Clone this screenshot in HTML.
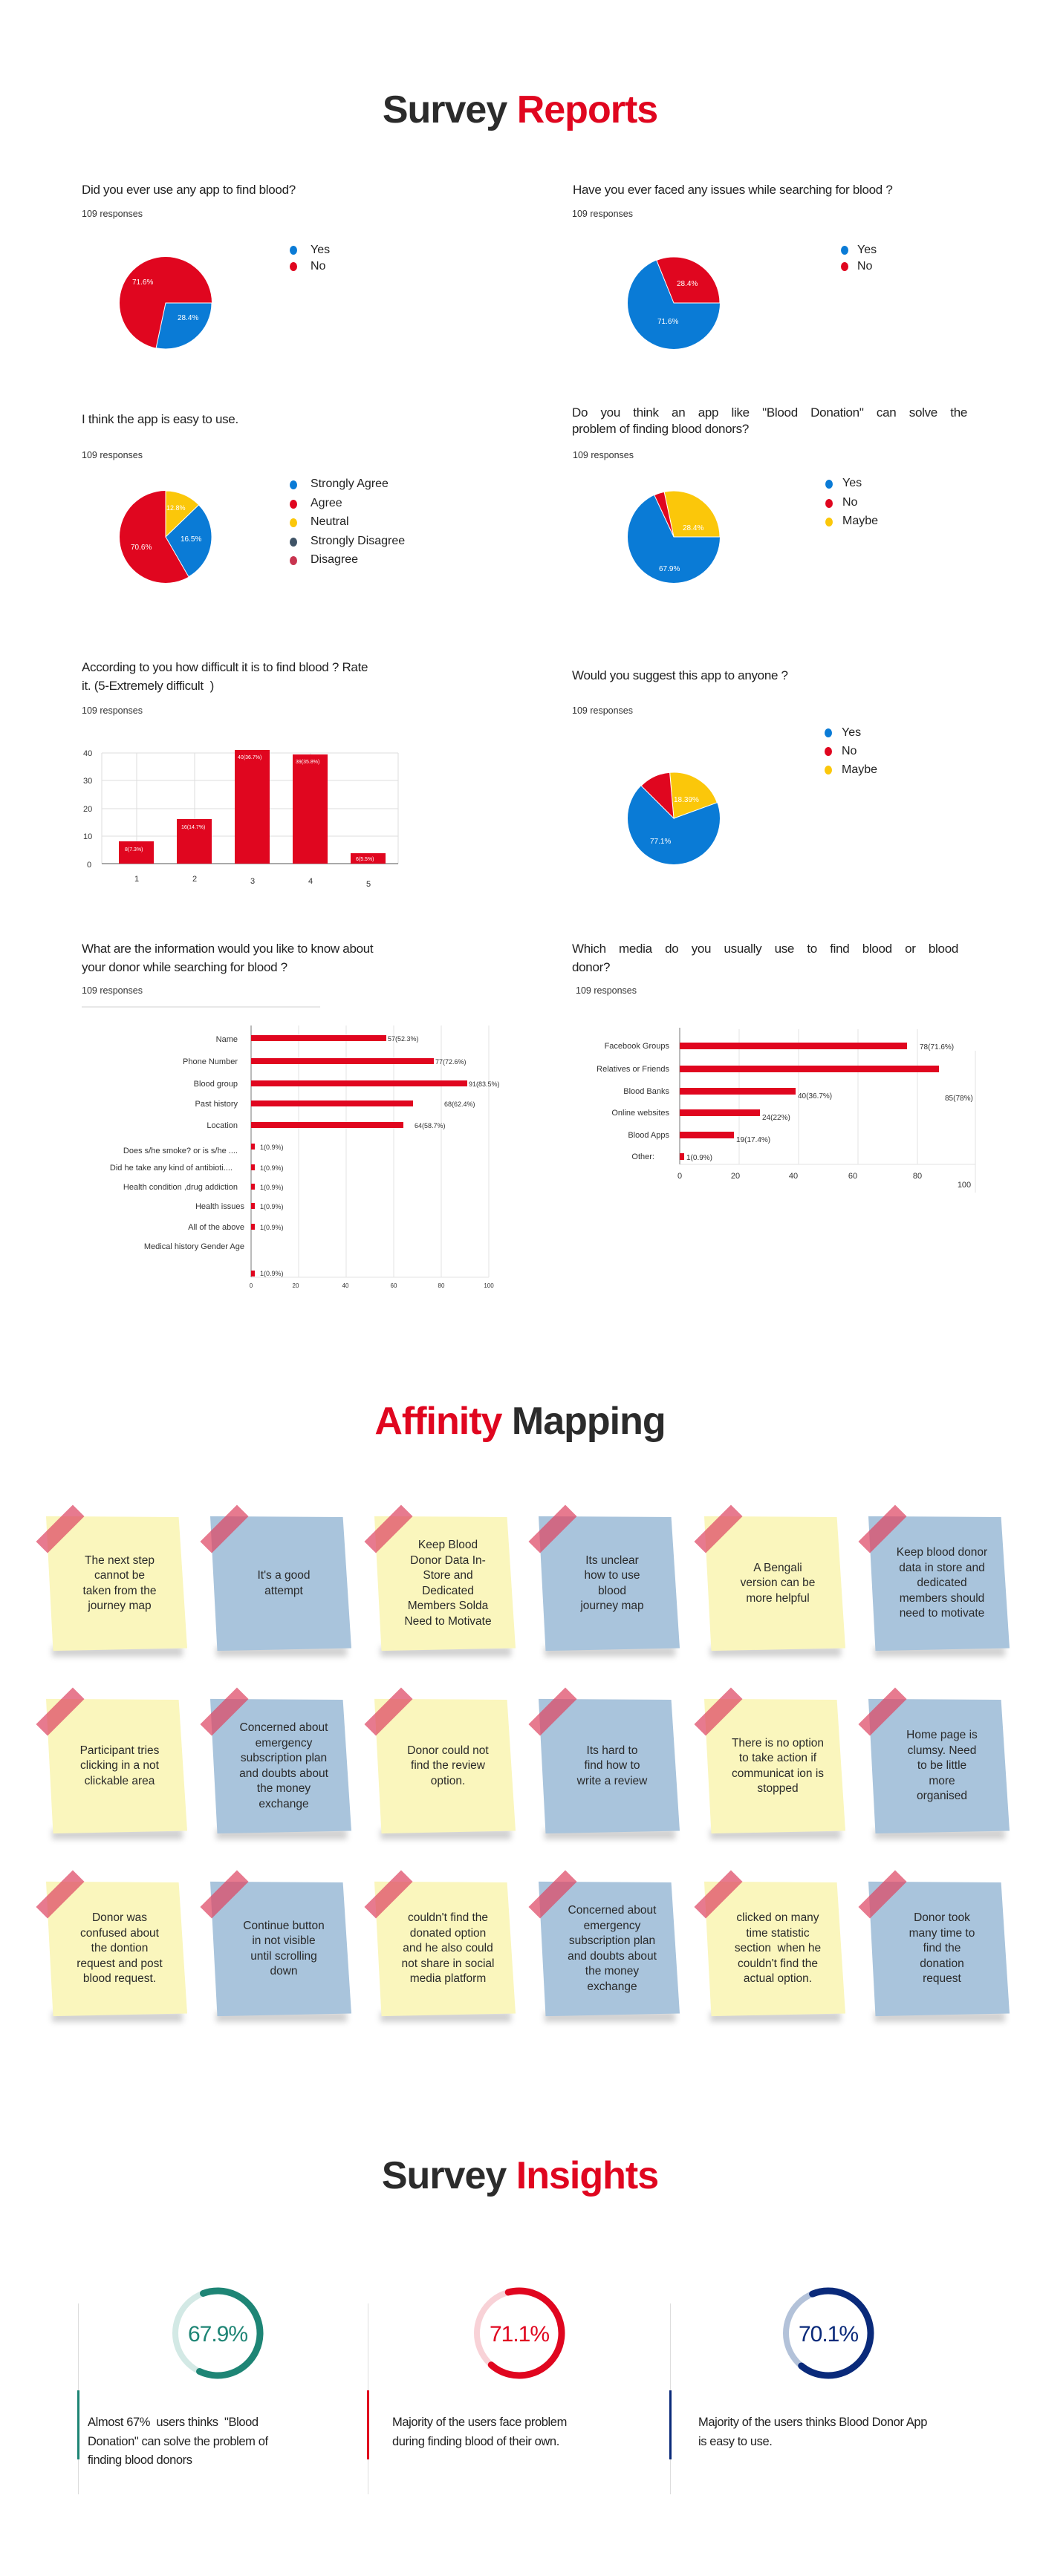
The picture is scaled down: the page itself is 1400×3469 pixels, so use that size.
<!DOCTYPE html>
<html><head><meta charset="utf-8">
<style>
*{margin:0;padding:0;box-sizing:border-box}
body{width:1400px;height:3469px;background:#fff;position:relative;font-family:"Liberation Sans",sans-serif;color:#2b2b2b;overflow:hidden}
.a{position:absolute;white-space:nowrap}
.h1{font-weight:bold;font-size:52px;letter-spacing:-1px;color:#2b2b2b;width:1400px;text-align:center;left:0}
.r{color:#e0061f}
.q{font-size:17px;color:#222;letter-spacing:-0.3px}
.resp{font-size:12.5px;color:#333}
.lg{font-size:16px;color:#222}
.dot{position:absolute;width:10px;height:12px;border-radius:50%}
.note{position:absolute;width:190px;height:185px}
.note .bg{position:absolute;inset:0;clip-path:polygon(0 1%,94% 1.6%,100% 97%,5% 99%)}
.note .sh{position:absolute;left:8px;right:6px;bottom:-6px;height:14px;background:rgba(0,0,0,.18);filter:blur(4px)}
.note .t{position:absolute;left:14px;right:6px;top:0;bottom:0;display:flex;align-items:center;justify-content:center;text-align:center;font-size:15.5px;line-height:20.5px;color:#2a2a2a;white-space:normal;padding:0 15px}
.note .tape{position:absolute;left:-16px;top:8px;width:70px;height:22px;background:rgba(222,70,100,.72);transform:rotate(-45deg)}
.y .bg{background:#faf6bd}.b .bg{background:#a9c4dc}
.ins{font-size:16.5px;line-height:25.5px;color:#222;white-space:normal;letter-spacing:-0.4px}
</style></head><body>

<div class="a h1" style="top:118px">Survey <span class="r">Reports</span></div>

<!-- Q1 -->
<div class="a q" style="left:110px;top:246px">Did you ever use any app to find blood?</div>
<div class="a resp" style="left:110px;top:281px">109 responses</div>
<svg class="a" style="left:161px;top:346px" width="124" height="124" viewBox="-62 -62 124 124">
<circle r="62" fill="#e0061f"/><path d="M0 0 L62 0 A62 62 0 0 1 -12.9 60.6Z" fill="#0a7bd6" stroke="#fff" stroke-width="1"/>
<text x="-45" y="-25" fill="#fff" font-size="10">71.6%</text><text x="16" y="23" fill="#fff" font-size="10">28.4%</text></svg>
<div class="dot" style="left:390px;top:331px;background:#0a7bd6"></div><div class="a lg" style="left:418px;top:328px">Yes</div>
<div class="dot" style="left:390px;top:353px;background:#e0061f"></div><div class="a lg" style="left:418px;top:350px">No</div>

<!-- Q2 -->
<div class="a q" style="left:771px;top:246px">Have you ever faced any issues while searching for blood ?</div>
<div class="a resp" style="left:770px;top:281px">109 responses</div>
<svg class="a" style="left:845px;top:346px" width="124" height="124" viewBox="-62 -62 124 124">
<circle r="62" fill="#0a7bd6"/><path d="M0 0 L-23.2 -57.5 A62 62 0 0 1 62 0Z" fill="#e0061f" stroke="#fff" stroke-width="1"/>
<text x="4" y="-23" fill="#fff" font-size="10">28.4%</text><text x="-22" y="28" fill="#fff" font-size="10">71.6%</text></svg>
<div class="dot" style="left:1132px;top:331px;background:#0a7bd6"></div><div class="a lg" style="left:1154px;top:328px">Yes</div>
<div class="dot" style="left:1132px;top:353px;background:#e0061f"></div><div class="a lg" style="left:1154px;top:350px">No</div>

<!-- Q3 -->
<div class="a q" style="left:110px;top:555px">I think the app is easy to use.</div>
<div class="a resp" style="left:110px;top:606px">109 responses</div>
<svg class="a" style="left:161px;top:661px" width="124" height="124" viewBox="-62 -62 124 124">
<circle r="62" fill="#e0061f"/><path d="M0 0 L0 -62 A62 62 0 0 1 44.6 -43.1Z" fill="#fbc70a" stroke="#fff" stroke-width="1"/>
<path d="M0 0 L44.6 -43.1 A62 62 0 0 1 31 53.7Z" fill="#0a7bd6" stroke="#fff" stroke-width="1"/>
<text x="1" y="-36" fill="#fff" font-size="9">12.8%</text><text x="20" y="6" fill="#fff" font-size="10">16.5%</text><text x="-47" y="17" fill="#fff" font-size="10">70.6%</text></svg>
<div class="dot" style="left:390px;top:647px;background:#0a7bd6"></div><div class="a lg" style="left:418px;top:643px">Strongly Agree</div>
<div class="dot" style="left:390px;top:673px;background:#e0061f"></div><div class="a lg" style="left:418px;top:669px">Agree</div>
<div class="dot" style="left:390px;top:698px;background:#fbc70a"></div><div class="a lg" style="left:418px;top:694px">Neutral</div>
<div class="dot" style="left:390px;top:724px;background:#3f5366"></div><div class="a lg" style="left:418px;top:720px">Strongly Disagree</div>
<div class="dot" style="left:390px;top:749px;background:#c8344f"></div><div class="a lg" style="left:418px;top:745px">Disagree</div>

<!-- Q4 -->
<div class="a q" style="left:770px;top:543px;width:532px;white-space:normal;text-align:justify;text-align-last:justify;line-height:25px">Do you think an app like "Blood Donation" can solve the</div>
<div class="a q" style="left:770px;top:568px">problem of finding blood donors?</div>
<div class="a resp" style="left:771px;top:606px">109 responses</div>
<svg class="a" style="left:845px;top:661px" width="124" height="124" viewBox="-62 -62 124 124">
<circle r="62" fill="#0a7bd6"/><path d="M0 0 L-12.9 -60.6 A62 62 0 0 1 62 0Z" fill="#fbc70a" stroke="#fff" stroke-width="1"/>
<path d="M0 0 L-26.2 -56.2 A62 62 0 0 1 -12.9 -60.6Z" fill="#e0061f" stroke="#fff" stroke-width="1"/>
<text x="12" y="-9" fill="#fff" font-size="10">28.4%</text><text x="-20" y="46" fill="#fff" font-size="10">67.9%</text></svg>
<div class="dot" style="left:1111px;top:646px;background:#0a7bd6"></div><div class="a lg" style="left:1134px;top:642px">Yes</div>
<div class="dot" style="left:1111px;top:672px;background:#e0061f"></div><div class="a lg" style="left:1134px;top:668px">No</div>
<div class="dot" style="left:1111px;top:697px;background:#fbc70a"></div><div class="a lg" style="left:1134px;top:693px">Maybe</div>

<!-- Q5 bar -->
<div class="a q" style="left:110px;top:889px">According to you how difficult it is to find blood ? Rate</div>
<div class="a q" style="left:110px;top:914px">it. (5-Extremely difficult&nbsp;&nbsp;)</div>
<div class="a resp" style="left:110px;top:950px">109 responses</div>
<svg class="a" style="left:100px;top:1000px" width="460" height="200" font-family="Liberation Sans" font-size="11" fill="#333">
<g stroke="#ddd" stroke-width="1">
<line x1="37" y1="14" x2="436" y2="14"/><line x1="37" y1="51" x2="436" y2="51"/><line x1="37" y1="89" x2="436" y2="89"/><line x1="37" y1="126" x2="436" y2="126"/>
<line x1="37" y1="14" x2="37" y2="163"/><line x1="84" y1="14" x2="84" y2="163"/><line x1="162" y1="14" x2="162" y2="163"/><line x1="240" y1="14" x2="240" y2="163"/><line x1="318" y1="14" x2="318" y2="163"/><line x1="436" y1="14" x2="436" y2="163"/></g>
<line x1="37" y1="163" x2="436" y2="163" stroke="#555"/>
<g fill="#e0061f"><rect x="60" y="133" width="47" height="30"/><rect x="138" y="103" width="47" height="60"/><rect x="216" y="10" width="47" height="153"/><rect x="294" y="16" width="47" height="147"/><rect x="372" y="149" width="47" height="14"/></g>
<g fill="#fff" font-size="7"><text x="68" y="146">8(7.3%)</text><text x="144" y="116">16(14.7%)</text><text x="220" y="22">40(36.7%)</text><text x="298" y="28">39(35.8%)</text><text x="379" y="159">6(5.5%)</text></g>
<text x="12" y="18">40</text><text x="12" y="55">30</text><text x="12" y="93">20</text><text x="12" y="130">10</text><text x="17" y="168">0</text>
<text x="81" y="187">1</text><text x="159" y="187">2</text><text x="237" y="190">3</text><text x="315" y="190">4</text><text x="393" y="194">5</text></svg>

<!-- Q6 -->
<div class="a q" style="left:770px;top:900px">Would you suggest this app to anyone ?</div>
<div class="a resp" style="left:770px;top:950px">109 responses</div>
<svg class="a" style="left:845px;top:1040px" width="124" height="124" viewBox="-62 -62 124 124">
<circle r="62" fill="#0a7bd6"/><path d="M0 0 L-5.4 -61.8 A62 62 0 0 1 58.3 -21.2Z" fill="#fbc70a" stroke="#fff" stroke-width="1"/>
<path d="M0 0 L-43.8 -43.8 A62 62 0 0 1 -5.4 -61.8Z" fill="#e0061f" stroke="#fff" stroke-width="1"/>
<text x="0" y="-22" fill="#fff" font-size="10">18.39%</text><text x="-32" y="34" fill="#fff" font-size="10">77.1%</text></svg>
<div class="dot" style="left:1110px;top:981px;background:#0a7bd6"></div><div class="a lg" style="left:1133px;top:978px">Yes</div>
<div class="dot" style="left:1110px;top:1006px;background:#e0061f"></div><div class="a lg" style="left:1133px;top:1003px">No</div>
<div class="dot" style="left:1110px;top:1031px;background:#fbc70a"></div><div class="a lg" style="left:1133px;top:1028px">Maybe</div>

<!-- Q7 -->
<div class="a q" style="left:110px;top:1268px">What are the information would you like to know about</div>
<div class="a q" style="left:110px;top:1293px">your donor while searching for blood ?</div>
<div class="a resp" style="left:110px;top:1327px">109 responses</div>
<div class="a" style="left:110px;top:1355px;width:321px;height:2px;background:#e8e8e8"></div>
<svg class="a" style="left:100px;top:1375px" width="600" height="370" font-family="Liberation Sans" font-size="11" fill="#333">
<g stroke="#e3e3e3"><line x1="302" y1="6" x2="302" y2="345"/><line x1="366" y1="6" x2="366" y2="345"/><line x1="430" y1="6" x2="430" y2="345"/><line x1="494" y1="6" x2="494" y2="345"/><line x1="558" y1="6" x2="558" y2="345"/><line x1="238" y1="345" x2="558" y2="345"/></g>
<line x1="238" y1="6" x2="238" y2="345" stroke="#777"/>
<g fill="#e0061f"><rect x="238" y="19" width="182" height="8"/><rect x="238" y="50" width="246" height="8"/><rect x="238" y="80" width="291" height="8"/><rect x="238" y="107" width="218" height="8"/><rect x="238" y="136" width="205" height="8"/>
<rect x="238" y="165" width="5" height="8"/><rect x="238" y="193" width="5" height="8"/><rect x="238" y="219" width="5" height="8"/><rect x="238" y="245" width="5" height="8"/><rect x="238" y="273" width="5" height="8"/><rect x="238" y="336" width="5" height="8"/></g>
<g font-size="9"><text x="422" y="27">57(52.3%)</text><text x="486" y="58">77(72.6%)</text><text x="531" y="88">91(83.5%)</text><text x="498" y="115">68(62.4%)</text><text x="458" y="144">64(58.7%)</text>
<text x="250" y="173">1(0.9%)</text><text x="250" y="201">1(0.9%)</text><text x="250" y="227">1(0.9%)</text><text x="250" y="253">1(0.9%)</text><text x="250" y="281">1(0.9%)</text><text x="250" y="343">1(0.9%)</text></g>
<g text-anchor="end" font-size="11"><text x="220" y="28">Name</text><text x="220" y="58">Phone Number</text><text x="220" y="88">Blood group</text><text x="220" y="115">Past history</text><text x="220" y="144">Location</text>
<text x="220" y="178">Does s/he smoke? or is s/he ....</text><text x="213" y="201">Did he take any kind of antibioti....</text><text x="220" y="227">Health condition ,drug addiction</text><text x="229" y="253">Health issues</text><text x="229" y="281">All of the above</text><text x="229" y="307">Medical history Gender Age</text></g>
<g font-size="8" text-anchor="middle"><text x="238" y="359">0</text><text x="298" y="359">20</text><text x="365" y="359">40</text><text x="430" y="359">60</text><text x="494" y="359">80</text><text x="558" y="359">100</text></g></svg>

<!-- Q8 -->
<div class="a q" style="left:770px;top:1268px;width:520px;white-space:normal;text-align:justify;text-align-last:justify">Which media do you usually use to find blood or blood</div>
<div class="a q" style="left:770px;top:1293px">donor?</div>
<div class="a resp" style="left:775px;top:1327px">109 responses</div>
<svg class="a" style="left:760px;top:1380px" width="600" height="240" font-family="Liberation Sans" font-size="12" fill="#333">
<g stroke="#e3e3e3"><line x1="235" y1="6" x2="235" y2="188"/><line x1="315" y1="6" x2="315" y2="188"/><line x1="395" y1="6" x2="395" y2="188"/><line x1="475" y1="6" x2="475" y2="188"/><line x1="155" y1="188" x2="553" y2="188"/><line x1="553" y1="35" x2="553" y2="226"/></g>
<line x1="155" y1="4" x2="155" y2="188" stroke="#777"/>
<g fill="#e0061f"><rect x="155" y="24" width="306" height="9"/><rect x="155" y="55" width="349" height="9"/><rect x="155" y="85" width="156" height="9"/><rect x="155" y="114" width="108" height="9"/><rect x="155" y="144" width="73" height="9"/><rect x="155" y="173" width="6" height="9"/></g>
<g font-size="10"><text x="478" y="33">78(71.6%)</text><text x="314" y="99">40(36.7%)</text><text x="266" y="128">24(22%)</text><text x="231" y="158">19(17.4%)</text><text x="164" y="182">1(0.9%)</text><text x="512" y="102">85(78%)</text></g>
<g text-anchor="end" font-size="11"><text x="141" y="32">Facebook Groups</text><text x="141" y="63">Relatives or Friends</text><text x="141" y="93">Blood Banks</text><text x="141" y="122">Online websites</text><text x="141" y="152">Blood Apps</text><text x="121" y="181">Other:</text></g>
<g font-size="11" text-anchor="middle"><text x="155" y="207">0</text><text x="230" y="207">20</text><text x="308" y="207">40</text><text x="388" y="207">60</text><text x="475" y="207">80</text><text x="538" y="219">100</text></g></svg>

<!-- Affinity -->
<div class="a h1" style="top:1884px"><span class="r">Affinity</span> Mapping</div>

<div class="note y" style="left:62px;top:2040px"><div class="sh"></div><div class="bg"></div><div class="t" style="padding:0 30px">The next step cannot be taken from the journey map</div><div class="tape"></div></div>
<div class="note b" style="left:283px;top:2040px"><div class="sh"></div><div class="bg"></div><div class="t" style="padding:0 42px">It's a good attempt</div><div class="tape"></div></div>
<div class="note y" style="left:504px;top:2040px"><div class="sh"></div><div class="bg"></div><div class="t" style="padding:0 22px">Keep Blood Donor Data In-Store and Dedicated Members Solda Need to Motivate</div><div class="tape"></div></div>
<div class="note b" style="left:725px;top:2040px"><div class="sh"></div><div class="bg"></div><div class="t" style="padding:0 40px">Its unclear how to use blood journey map</div><div class="tape"></div></div>
<div class="note y" style="left:948px;top:2040px"><div class="sh"></div><div class="bg"></div><div class="t" style="padding:0 32px">A Bengali version can be more helpful</div><div class="tape"></div></div>
<div class="note b" style="left:1169px;top:2040px"><div class="sh"></div><div class="bg"></div><div class="t" style="padding:0 18px">Keep blood donor data in store and dedicated members should need to motivate</div><div class="tape"></div></div>

<div class="note y" style="left:62px;top:2286px"><div class="sh"></div><div class="bg"></div><div class="t" style="padding:0 24px">Participant tries clicking in a not clickable area</div><div class="tape"></div></div>
<div class="note b" style="left:283px;top:2286px"><div class="sh"></div><div class="bg"></div><div class="t" style="padding:0 16px">Concerned about emergency subscription plan and doubts about the money exchange</div><div class="tape"></div></div>
<div class="note y" style="left:504px;top:2286px"><div class="sh"></div><div class="bg"></div><div class="t" style="padding:0 30px">Donor could not find the review option.</div><div class="tape"></div></div>
<div class="note b" style="left:725px;top:2286px"><div class="sh"></div><div class="bg"></div><div class="t" style="padding:0 36px">Its hard to find how to write a review</div><div class="tape"></div></div>
<div class="note y" style="left:948px;top:2286px"><div class="sh"></div><div class="bg"></div><div class="t" style="padding:0 22px">There is no option to take action if communicat ion is stopped</div><div class="tape"></div></div>
<div class="note b" style="left:1169px;top:2286px"><div class="sh"></div><div class="bg"></div><div class="t" style="padding:0 34px">Home page is clumsy. Need to be little more organised</div><div class="tape"></div></div>

<div class="note y" style="left:62px;top:2532px"><div class="sh"></div><div class="bg"></div><div class="t" style="padding:0 20px">Donor was confused about the dontion request and post blood request.</div><div class="tape"></div></div>
<div class="note b" style="left:283px;top:2532px"><div class="sh"></div><div class="bg"></div><div class="t" style="padding:0 26px">Continue button in not visible until scrolling down</div><div class="tape"></div></div>
<div class="note y" style="left:504px;top:2532px"><div class="sh"></div><div class="bg"></div><div class="t" style="padding:0 22px">couldn't find the donated option and he also could not share in social media platform</div><div class="tape"></div></div>
<div class="note b" style="left:725px;top:2532px"><div class="sh"></div><div class="bg"></div><div class="t" style="padding:0 16px">Concerned about emergency subscription plan and doubts about the money exchange</div><div class="tape"></div></div>
<div class="note y" style="left:948px;top:2532px"><div class="sh"></div><div class="bg"></div><div class="t" style="padding:0 24px">clicked on many time statistic section &nbsp;when he couldn't find the actual option.</div><div class="tape"></div></div>
<div class="note b" style="left:1169px;top:2532px"><div class="sh"></div><div class="bg"></div><div class="t" style="padding:0 34px">Donor took many time to find the donation request</div><div class="tape"></div></div>

<!-- Insights -->
<div class="a h1" style="top:2900px">Survey <span class="r">Insights</span></div>

<div class="a" style="left:105px;top:3102px;width:1px;height:257px;background:#ddd"></div>
<div class="a" style="left:495px;top:3102px;width:1px;height:257px;background:#ddd"></div>
<div class="a" style="left:902px;top:3102px;width:1px;height:257px;background:#ddd"></div>
<div class="a" style="left:104px;top:3219px;width:3px;height:93px;background:#1e8575"></div>
<div class="a" style="left:494px;top:3219px;width:3px;height:93px;background:#e0061f"></div>
<div class="a" style="left:901px;top:3219px;width:3px;height:93px;background:#0a2a7a"></div>

<svg class="a" style="left:0;top:3060px" width="1400" height="170" font-family="Liberation Sans">
<g transform="translate(293,82)"><circle r="57" fill="none" stroke="#d3e9e5" stroke-width="8"/><circle r="57" fill="none" stroke="#1e8575" stroke-width="9" stroke-linecap="round" stroke-dasharray="224 400" transform="rotate(-110)"/><text y="11" text-anchor="middle" font-size="30" fill="#1e8575" letter-spacing="-1">67.9%</text></g>
<g transform="translate(699,82)"><circle r="57" fill="none" stroke="#f8d2d7" stroke-width="8"/><circle r="57" fill="none" stroke="#e0061f" stroke-width="9" stroke-linecap="round" stroke-dasharray="235 400" transform="rotate(-105)"/><text y="11" text-anchor="middle" font-size="30" fill="#e0061f" letter-spacing="-1">71.1%</text></g>
<g transform="translate(1115,82)"><circle r="57" fill="none" stroke="#b3c2d9" stroke-width="8"/><circle r="57" fill="none" stroke="#0a2a7a" stroke-width="9" stroke-linecap="round" stroke-dasharray="240 400" transform="rotate(-112)"/><text y="11" text-anchor="middle" font-size="30" fill="#0a2a7a" letter-spacing="-1">70.1%</text></g>
</svg>

<div class="a ins" style="left:118px;top:3250px;width:285px">Almost 67% &nbsp;users thinks &nbsp;"Blood Donation" can solve the problem of finding blood donors</div>
<div class="a ins" style="left:528px;top:3250px;width:265px">Majority of the users face problem during finding blood of their own.</div>
<div class="a ins" style="left:940px;top:3250px;width:310px">Majority of the users thinks Blood Donor App is easy to use.</div>
</body></html>
